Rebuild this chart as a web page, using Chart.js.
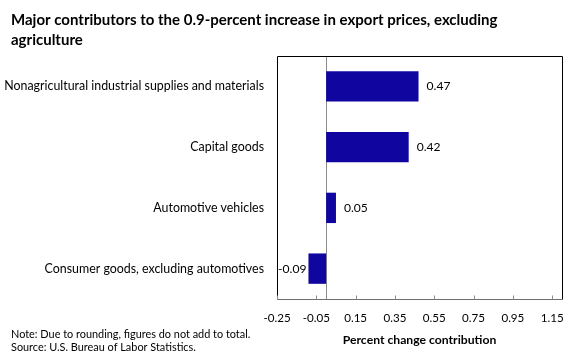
<!DOCTYPE html>
<html>
<head>
<meta charset="utf-8">
<script src="https://cdn.jsdelivr.net/npm/chart.js@4/dist/chart.umd.min.js"></script>
<style>
html,body{margin:0;padding:0;background:#fff;}
canvas{display:block;}
</style>
</head>
<body>
<canvas id="c" width="580" height="363"></canvas>
<script>
// ---- data ----
const titleLines = ['Major contributors to the 0.9-percent increase in export prices, excluding', 'agriculture'];
const categories = ['Nonagricultural industrial supplies and materials', 'Capital goods', 'Automotive vehicles', 'Consumer goods, excluding automotives'];
const values = [0.47, 0.42, 0.05, -0.09];
const valueLabels = ['0.47', '0.42', '0.05', '-0.09'];
const tickValues = [-0.25, -0.05, 0.15, 0.35, 0.55, 0.75, 0.95, 1.15];
const tickLabels = ['-0.25', '-0.05', '0.15', '0.35', '0.55', '0.75', '0.95', '1.15'];
const axisTitle = 'Percent change contribution';
const noteLines = ['Note: Due to rounding, figures do not add to total.', 'Source: U.S. Bureau of Labor Statistics.'];
const xMin = -0.25, xMax = 1.2;

// ---- fonts fitted to reference widths ----
const FAM = 'Lato, "Open Sans", sans-serif';
const mctx = document.createElement('canvas').getContext('2d');
function fit(text, weight, target) {
  mctx.font = weight + ' 100px ' + FAM;
  return Math.round(1000 * target / mctx.measureText(text).width) / 10;
}
const titleSize = fit(titleLines[0], 'bold', 488);
const catSize = fit(categories[0], 'normal', 259);
const noteSize = fit(noteLines[0], 'normal', 240);
const axisTitleSize = fit(axisTitle, 'bold', 154);
const tickSize = fit('0.55', 'normal', 23);
const valSize = fit('0.47', 'normal', 24);

const BAR = '#10069f';

const decor = {
  id: 'decor',
  beforeDatasetsDraw(chart) {
    const {ctx, chartArea: a, scales: {x}} = chart;
    ctx.save();
    const z = Math.round(x.getPixelForValue(0)) + 0.5;
    ctx.strokeStyle = '#8c8c8c';
    ctx.lineWidth = 1;
    ctx.beginPath();
    ctx.moveTo(z, a.top);
    ctx.lineTo(z, a.bottom);
    ctx.stroke();
    ctx.restore();
  },
  afterDatasetsDraw(chart) {
    const {ctx, chartArea: a, scales: {x}} = chart;
    ctx.save();
    // value labels
    const meta = chart.getDatasetMeta(0);
    ctx.font = valSize + 'px ' + FAM;
    ctx.fillStyle = '#000';
    ctx.textBaseline = 'middle';
    meta.data.forEach((bar, i) => {
      const v = values[i];
      if (v >= 0) {
        ctx.textAlign = 'left';
        ctx.fillText(valueLabels[i], bar.x + 8, bar.y);
      } else {
        ctx.textAlign = 'right';
        ctx.fillText(valueLabels[i], bar.x - 2, bar.y);
      }
    });
    // border
    const L = Math.round(a.left) + 0.5, R = Math.round(a.right) + 0.5;
    const T = Math.round(a.top) + 0.5, B = Math.round(a.bottom) + 0.5;
    ctx.lineWidth = 1;
    ctx.strokeStyle = '#000';
    ctx.beginPath();
    ctx.moveTo(L, B);
    ctx.lineTo(L, T);
    ctx.lineTo(R, T);
    ctx.lineTo(R, B);
    ctx.stroke();
    ctx.strokeStyle = '#6e6e6e';
    ctx.beginPath();
    ctx.moveTo(L, B);
    ctx.lineTo(R, B);
    ctx.stroke();
    // tick marks (inside, upward)
    ctx.strokeStyle = '#8c8c8c';
    tickValues.forEach(v => {
      const px = Math.round(x.getPixelForValue(v)) + 0.5;
      ctx.beginPath();
      ctx.moveTo(px, B);
      ctx.lineTo(px, B - 4);
      ctx.stroke();
    });
    ctx.restore();
  },
  afterDraw(chart) {
    const {ctx} = chart;
    ctx.save();
    ctx.fillStyle = '#000';
    ctx.textAlign = 'left';
    ctx.textBaseline = 'alphabetic';
    ctx.font = 'bold ' + titleSize + 'px ' + FAM;
    ctx.fillText(titleLines[0], 11, 25);
    ctx.fillText(titleLines[1], 11, 45);
    ctx.font = noteSize + 'px ' + FAM;
    ctx.fillText(noteLines[0], 11, 338);
    ctx.fillText(noteLines[1], 11, 351);
    ctx.restore();
  }
};

new Chart(document.getElementById('c'), {
  type: 'bar',
  data: {
    labels: categories,
    datasets: [{
      data: values,
      backgroundColor: BAR,
      borderWidth: 0,
      barPercentage: 0.5,
      categoryPercentage: 1
    }]
  },
  options: {
    indexAxis: 'y',
    responsive: false,
    devicePixelRatio: 1,
    animation: false,
    layout: {padding: {left: 0, top: 56, right: 18, bottom: 0}},
    plugins: {legend: {display: false}, tooltip: {enabled: false}, title: {display: false}},
    scales: {
      x: {
        type: 'linear',
        min: xMin,
        max: xMax,
        afterBuildTicks: s => { s.ticks = tickValues.map(v => ({value: v})); },
        afterFit: s => { s.height = 64; },
        grid: {display: false, drawTicks: false},
        border: {display: false},
        ticks: {
          autoSkip: false,
          maxRotation: 0,
          padding: 12,
          color: '#000',
          font: {family: FAM, size: tickSize},
          callback: (v, i) => tickLabels[i]
        },
        title: {
          display: true,
          text: axisTitle,
          color: '#000',
          font: {family: FAM, size: axisTitleSize, weight: 'bold'},
          padding: {top: 4, bottom: 16}
        }
      },
      y: {
        afterFit: s => { s.width = 277; },
        grid: {display: false, drawTicks: false},
        border: {display: false},
        ticks: {
          padding: 13,
          color: '#000',
          font: {family: FAM, size: catSize}
        }
      }
    }
  },
  plugins: [decor]
});
</script>
</body>
</html>
